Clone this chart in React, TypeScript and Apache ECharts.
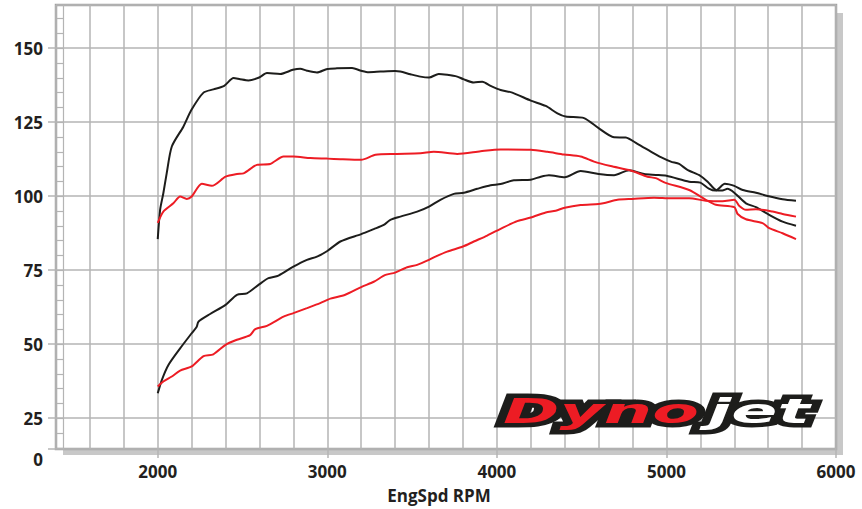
import React, { useEffect, useRef } from 'react';
import * as echarts from 'echarts';

// ---- Data (RPM, value) ----
const blackTqRpm = [2000, 2014, 2033, 2053, 2083, 2151, 2199, 2270, 2328, 2392, 2447, 2486, 2535, 2598, 2644, 2722, 2797, 2840, 2880, 2939, 3000, 3057, 3146, 3200, 3244, 3313, 3400, 3430, 3490, 3549, 3600, 3657, 3707, 3766, 3800, 3864, 3914, 3963, 4022, 4091, 4200, 4288, 4357, 4406, 4514, 4600, 4691, 4760, 4829, 4908, 4967, 5026, 5075, 5124, 5200, 5243, 5292, 5330, 5360, 5400, 5469, 5528, 5597, 5685, 5764];
const blackTq = [85.5, 95.4, 101.0, 107.8, 116.8, 123.5, 129.2, 135.0, 136.1, 137.3, 139.9, 139.5, 139.1, 140.1, 141.6, 141.3, 142.7, 143.1, 142.4, 141.8, 143.0, 143.2, 143.3, 142.4, 141.9, 142.1, 142.3, 142.1, 141.2, 140.4, 140.1, 141.3, 141.0, 140.4, 139.6, 138.4, 138.7, 137.3, 135.9, 135.0, 132.3, 130.5, 128.0, 126.9, 126.4, 123.0, 119.9, 119.8, 117.7, 115.1, 113.2, 111.7, 110.9, 108.9, 106.9, 104.9, 102.1, 101.9, 102.5, 101.2, 97.6, 96.3, 94.0, 91.4, 90.0];

const blackHpRpm = [2000, 2024, 2063, 2132, 2200, 2230, 2240, 2309, 2400, 2467, 2526, 2600, 2653, 2712, 2800, 2880, 2939, 3000, 3077, 3200, 3274, 3333, 3372, 3431, 3530, 3600, 3667, 3746, 3805, 3884, 3963, 4022, 4100, 4200, 4259, 4307, 4400, 4494, 4600, 4691, 4780, 4868, 4937, 5000, 5134, 5200, 5250, 5290, 5344, 5370, 5400, 5450, 5528, 5597, 5685, 5764];
const blackHp = [33.4, 37.9, 43.0, 48.6, 53.7, 55.9, 57.6, 60.2, 63.3, 66.7, 67.2, 70.3, 72.3, 73.2, 76.2, 78.5, 79.6, 81.5, 84.7, 87.2, 88.9, 90.3, 92.0, 93.1, 94.8, 96.5, 98.8, 100.8, 101.2, 102.5, 103.7, 104.1, 105.4, 105.6, 106.6, 107.1, 106.4, 108.5, 107.5, 107.1, 108.8, 107.5, 107.2, 106.9, 104.9, 104.6, 102.6, 101.9, 104.2, 104.0, 103.5, 102.1, 101.2, 100.1, 99.0, 98.5];

const redTqRpm = [2000, 2033, 2092, 2132, 2171, 2200, 2260, 2319, 2400, 2467, 2506, 2585, 2663, 2742, 2800, 2900, 3000, 3077, 3200, 3284, 3400, 3549, 3628, 3766, 3904, 4022, 4200, 4298, 4396, 4494, 4573, 4671, 4789, 4888, 4937, 4995, 5134, 5232, 5292, 5400, 5420, 5469, 5567, 5606, 5685, 5764];
const redTq = [91.0, 94.8, 97.6, 99.9, 99.1, 99.9, 104.2, 103.5, 106.6, 107.5, 107.7, 110.6, 110.9, 113.4, 113.4, 112.9, 112.7, 112.5, 112.3, 114.0, 114.3, 114.5, 115.0, 114.3, 115.2, 115.8, 115.7, 115.0, 114.1, 113.4, 111.7, 110.2, 108.7, 106.6, 106.1, 104.5, 102.1, 98.8, 97.1, 96.3, 94.0, 92.2, 90.9, 89.2, 87.5, 85.5];

const redHpRpm = [2000, 2033, 2083, 2132, 2200, 2270, 2328, 2400, 2467, 2545, 2575, 2644, 2742, 2800, 2880, 2958, 3018, 3106, 3200, 3274, 3343, 3400, 3471, 3530, 3600, 3638, 3707, 3800, 3864, 3943, 4022, 4120, 4200, 4288, 4347, 4400, 4494, 4600, 4642, 4711, 4800, 4927, 5026, 5134, 5232, 5331, 5400, 5430, 5469, 5528, 5626, 5685, 5764];
const redHp = [35.7, 37.4, 39.1, 41.1, 42.5, 46.0, 46.6, 49.8, 51.5, 53.1, 55.1, 56.2, 59.3, 60.5, 62.2, 63.9, 65.4, 66.7, 69.3, 71.1, 73.4, 74.2, 76.0, 76.8, 78.5, 79.6, 81.3, 83.0, 84.7, 86.7, 89.0, 91.6, 92.8, 94.5, 95.1, 96.1, 97.0, 97.4, 97.8, 98.8, 99.1, 99.5, 99.3, 99.3, 98.5, 98.3, 98.8, 96.7, 95.4, 95.6, 94.8, 94.0, 93.1];

// ---- Axis labels / ticks ----
const xLabelValues = [2000, 3000, 4000, 5000, 6000];
const yLabelValues = [25, 50, 75, 100, 125, 150];
const yBottomLabel = '0';
const rulerValues = [15, 20, 25, 30, 35, 40, 45, 50, 55, 60, 65, 70, 75, 80, 85, 90, 95, 100, 105, 110, 115, 120, 125, 130, 135, 140, 145, 150, 155, 160];
const xAxisTitle = 'EngSpd RPM';
const logoLeft = 'Dyno';
const logoRight = 'jet';

const zip = (xs: number[], ys: number[]) => xs.map((x, i) => [x, ys[i]]);

export default function App() {
  const ref = useRef<HTMLDivElement>(null);

  useEffect(() => {
    const chart = echarts.init(ref.current!, null, { renderer: 'svg' });
    const font = '"Open Sans", "Noto Sans", sans-serif';
    const gridColor = '#b4b4b4';
    const frameColor = '#a2a2a2';
    const textColor = '#231f20';
    const black = '#1d1d1b';
    const red = '#ed1c24';
    const labelStyle = { fontFamily: font, fontWeight: 'bold' as const, fontSize: 17, color: textColor };
    const logoFont = 'italic bold 34px "DejaVu Sans"';

    const line = (name: string, data: number[][], color: string) => ({
      type: 'line',
      name,
      xAxisIndex: 0,
      yAxisIndex: 0,
      data,
      showSymbol: false,
      symbol: 'none',
      smooth: 0.25,
      lineStyle: { color, width: 2 },
      itemStyle: { color },
      z: 3,
    });

    chart.setOption({
      animation: false,
      backgroundColor: '#ffffff',
      grid: {
        left: 56, right: 26, top: 5, bottom: 60,
        show: true, backgroundColor: '#ffffff', borderColor: frameColor, borderWidth: 2.5,
      },
      xAxis: [
        {
          type: 'value', min: 1400, max: 6000, interval: 200, position: 'bottom',
          axisLine: { show: false }, axisTick: { show: false },
          splitLine: { show: true, lineStyle: { color: gridColor, width: 1.5 } },
          axisLabel: {
            ...labelStyle, margin: 14,
            formatter: (v: number) => (xLabelValues.includes(v) ? String(v) : ''),
          },
          name: xAxisTitle, nameLocation: 'middle', nameGap: 38,
          nameTextStyle: { ...labelStyle, padding: [0, 14, 0, 0] },
        },
        {
          type: 'value', min: 1400, max: 6000, position: 'bottom',
          axisLine: { show: false },
          axisTick: { show: true, customValues: xLabelValues, length: 9, lineStyle: { color: gridColor, width: 1.5 } },
          axisLabel: { show: false }, splitLine: { show: false },
        },
      ],
      yAxis: [
        {
          type: 'value', min: 14.6, max: 164.6, minInterval: 25, maxInterval: 25, position: 'left',
          axisLine: { show: false },
          axisTick: { show: true, length: 8, lineStyle: { color: gridColor, width: 1.5 } },
          splitLine: { show: true, lineStyle: { color: gridColor, width: 1.5 } },
          axisLabel: {
            ...labelStyle, margin: 13, showMinLabel: true, showMaxLabel: false,
            formatter: (v: number) => (v < 20 ? `{zero|${yBottomLabel}}` : yLabelValues.includes(v) ? String(v) : ''),
            rich: { zero: { ...labelStyle, padding: [20, 0, 0, 0] } },
          },
        },
        {
          type: 'value', min: 14.6, max: 164.6, position: 'left', offset: -7,
          axisLine: { show: true, lineStyle: { color: gridColor, width: 1.2 } },
          axisTick: { show: true, customValues: rulerValues, length: 6, lineStyle: { color: gridColor, width: 1.2 } },
          axisLabel: { show: false }, splitLine: { show: false },
        },
      ],
      series: [
        line('Torque 1', zip(blackTqRpm, blackTq), black),
        line('Power 1', zip(blackHpRpm, blackHp), black),
        line('Torque 2', zip(redTqRpm, redTq), red),
        line('Power 2', zip(redHpRpm, redHp), red),
      ],
      graphic: [
        { type: 'rect', id: 'shadow', z: -1, silent: true, shape: { x: 63, y: 13, width: 780, height: 442 }, style: { fill: '#c8c8c8' } },
        { type: 'text', id: 'lb1', z: 50, x: 503, y: 411, scaleX: 2, style: { text: logoLeft, font: logoFont, fill: black, stroke: black, lineWidth: 9, lineJoin: 'round', align: 'left', verticalAlign: 'middle' } },
        { type: 'text', id: 'lb2', z: 50, x: 708, y: 411, scaleX: 2, style: { text: logoRight, font: logoFont, fill: black, stroke: black, lineWidth: 9, lineJoin: 'round', align: 'left', verticalAlign: 'middle' } },
        { type: 'text', id: 'lf1', z: 51, x: 503, y: 411, scaleX: 2, style: { text: logoLeft, font: logoFont, fill: red, align: 'left', verticalAlign: 'middle' } },
        { type: 'text', id: 'lf2', z: 51, x: 708, y: 411, scaleX: 2, style: { text: logoRight, font: logoFont, fill: '#ffffff', align: 'left', verticalAlign: 'middle' } },
      ],
    });

    return () => chart.dispose();
  }, []);

  return <div ref={ref} style={{ position: 'fixed', left: 0, top: 0, width: 862, height: 509 }} />;
}
